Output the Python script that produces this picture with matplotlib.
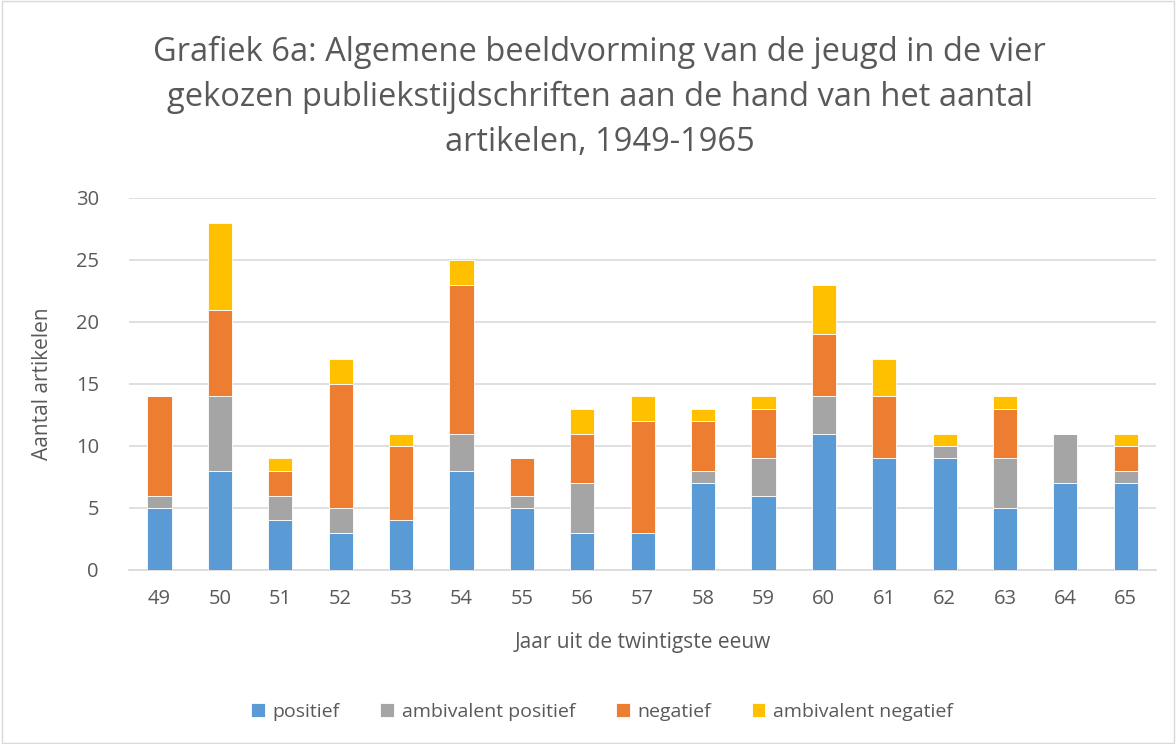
import matplotlib
matplotlib.use("Agg")
from matplotlib import pyplot as plt
from matplotlib.patches import Rectangle
import numpy as np

years = ["49", "50", "51", "52", "53", "54", "55", "56", "57",
         "58", "59", "60", "61", "62", "63", "64", "65"]
positief = [5, 8, 4, 3, 4, 8, 5, 3, 3, 7, 6, 11, 9, 9, 5, 7, 7]
ambivalent_positief = [1, 6, 2, 2, 0, 3, 1, 4, 0, 1, 3, 3, 0, 1, 4, 4, 1]
negatief = [8, 7, 2, 10, 6, 12, 3, 4, 9, 4, 4, 5, 5, 0, 4, 0, 2]
ambivalent_negatief = [0, 7, 1, 2, 1, 2, 0, 2, 2, 1, 1, 4, 3, 1, 1, 0, 1]

series = [
    ("positief", positief, "#5b9bd5"),
    ("ambivalent positief", ambivalent_positief, "#a5a5a5"),
    ("negatief", negatief, "#ed7d31"),
    ("ambivalent negatief", ambivalent_negatief, "#ffc000"),
]

plt.rcParams['font.family'] = ['Open Sans', 'DejaVu Sans']
text_col = "#595959"

fig = plt.figure(figsize=(11.76, 7.44), dpi=100)
ax = fig.add_axes([0.110, 0.234, 0.873, 0.500])

x = np.arange(len(years))
bottom = np.zeros(len(years))
handles = []
for name, vals, col in series:
    b = ax.bar(x, vals, 0.4, bottom=bottom, color=col, edgecolor="white",
               linewidth=0.6, label=name, zorder=3)
    handles.append(b)
    bottom += np.array(vals)

ax.set_xlim(-0.5, len(years) - 0.5)
ax.set_ylim(0, 30)
ax.set_yticks(range(0, 31, 5))
ax.set_xticks(x)
ax.set_xticklabels(years)
ax.grid(axis="y", color="#d9d9d9", linewidth=1.2, zorder=0)
for s in ["top", "right", "left"]:
    ax.spines[s].set_visible(False)
ax.spines["bottom"].set_color("#d9d9d9")
ax.spines["bottom"].set_linewidth(1.2)
ax.tick_params(length=0, labelsize=14.5, colors=text_col)
ax.tick_params(axis="x", pad=14)
ax.tick_params(axis="y", pad=22)

ax.set_xlabel("Jaar uit de twintigste eeuw", fontsize=15, color=text_col, labelpad=16)
ax.set_ylabel("Aantal artikelen", fontsize=15, color=text_col, labelpad=16)

fig.text(0.51, 0.952, "Grafiek 6a: Algemene beeldvorming van de jeugd in de vier\n"
         "gekozen publiekstijdschriften aan de hand van het aantal\n"
         "artikelen, 1949-1965", ha="center", va="top", fontsize=23.5,
         color=text_col, linespacing=1.48)

fig.legend(handles=handles, loc="center", bbox_to_anchor=(0.512, 0.043), ncol=4,
           frameon=False, fontsize=14, handlelength=0.7, handleheight=0.7,
           handletextpad=0.4, columnspacing=2.1, labelcolor=text_col)

fig.patches.append(Rectangle((0.002, 0.002), 0.996, 0.996, transform=fig.transFigure,
                             fill=False, edgecolor="#d9d9d9", linewidth=1))

fig.savefig("out.png", dpi=100)
